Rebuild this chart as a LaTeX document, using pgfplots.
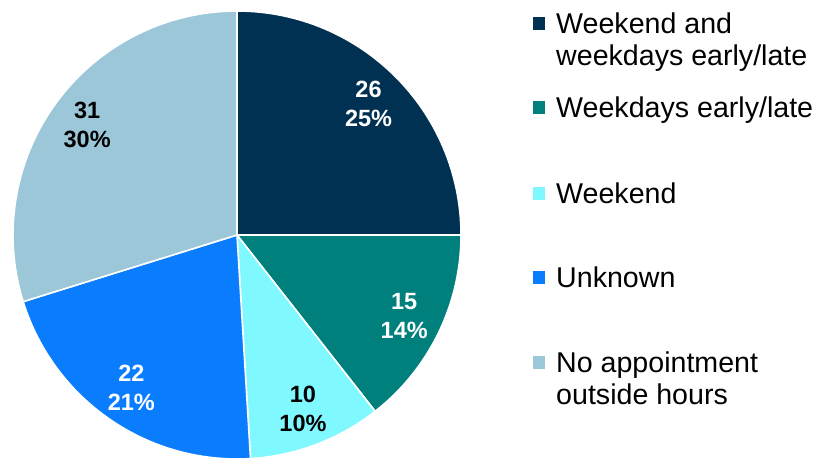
\documentclass[border=0pt]{standalone}
\usepackage{fontspec}
\setmainfont{Liberation Sans}
\usepackage{pgfplots}
\usepackage{pgfplotstable}
\pgfplotsset{compat=1.18}
\definecolor{c0}{HTML}{003152}
\definecolor{c1}{HTML}{00807D}
\definecolor{c2}{HTML}{80F8FF}
\definecolor{c3}{HTML}{0A7DFF}
\definecolor{c4}{HTML}{9BC7D8}
\colorlet{t0}{white}
\colorlet{t1}{white}
\colorlet{t2}{black}
\colorlet{t3}{white}
\colorlet{t4}{black}

% slices clockwise from 12 o'clock
\pgfplotstableread{
value
26
15
10
22
31
}\piedata

\newcommand\labfont{\fontsize{23.5bp}{29bp}\selectfont\bfseries}
\newcommand\legfont{\fontsize{28.6bp}{32bp}\selectfont}

\begin{document}
\begin{tikzpicture}
\useasboundingbox (0,0) rectangle (819bp,459bp);
\xdef\total{0}
\foreach \i in {0,...,4}{
  \pgfplotstablegetelem{\i}{value}\of\piedata
  \pgfmathsetmacro\t{\total+\pgfplotsretval}
  \xdef\total{\t}
}
\xdef\cum{90}
\foreach \i in {0,...,4}{
  \pgfplotstablegetelem{\i}{value}\of\piedata
  \edef\v{\pgfplotsretval}
  \pgfmathsetmacro\e{\cum-360*\v/\total}
  \pgfmathsetmacro\m{(\cum+\e)/2}
  \pgfmathtruncatemacro\p{round(100*\v/\total)}
  \expandafter\xdef\csname val\i\endcsname{\v}
  \expandafter\xdef\csname sa\i\endcsname{\cum}
  \expandafter\xdef\csname ea\i\endcsname{\e}
  \expandafter\xdef\csname ma\i\endcsname{\m}
  \expandafter\xdef\csname pc\i\endcsname{\p}
  \xdef\cum{\e}
}
\begin{axis}[
  anchor=south west, at={(0,0)},
  scale only axis, width=819bp, height=459bp,
  xmin=0, xmax=819, ymin=0, ymax=459,
  hide axis, clip=false,
]
\pgfplotsinvokeforeach{0,...,4}{
  \fill[c#1, draw=white, line width=1.6bp, line join=round]
    (axis cs:237,224) -- ([shift={(\csname sa#1\endcsname:224bp)}]axis cs:237,224)
    arc[start angle=\csname sa#1\endcsname, end angle=\csname ea#1\endcsname, radius=224bp] -- cycle;
}
\pgfplotsinvokeforeach{0,...,4}{
  \node[text=t#1, font=\labfont, align=center, inner sep=0pt]
    at ([shift={(\csname ma#1\endcsname:186bp)}]axis cs:237,224)
    {\csname val#1\endcsname\\\csname pc#1\endcsname\%};
}
% legend
\fill[c0] (axis cs:532.5,441.5) rectangle (axis cs:545,429);
\fill[c1] (axis cs:532.5,357.5) rectangle (axis cs:545,345);
\fill[c2] (axis cs:532.5,271.5) rectangle (axis cs:545,259);
\fill[c3] (axis cs:532.5,187.5) rectangle (axis cs:545,175);
\fill[c4] (axis cs:532.5,102.5) rectangle (axis cs:545,90);
\node[anchor=base west, inner sep=0pt, font=\legfont] at (axis cs:556,425) {Weekend and};
\node[anchor=base west, inner sep=0pt, font=\legfont] at (axis cs:556,393) {weekdays early/late};
\node[anchor=base west, inner sep=0pt, font=\legfont] at (axis cs:556,341) {Weekdays early/late};
\node[anchor=base west, inner sep=0pt, font=\legfont] at (axis cs:556,255.5) {Weekend};
\node[anchor=base west, inner sep=0pt, font=\legfont] at (axis cs:556,171) {Unknown};
\node[anchor=base west, inner sep=0pt, font=\legfont] at (axis cs:556,86.5) {No appointment};
\node[anchor=base west, inner sep=0pt, font=\legfont] at (axis cs:556,54) {outside hours};
\end{axis}
\end{tikzpicture}
\end{document}
